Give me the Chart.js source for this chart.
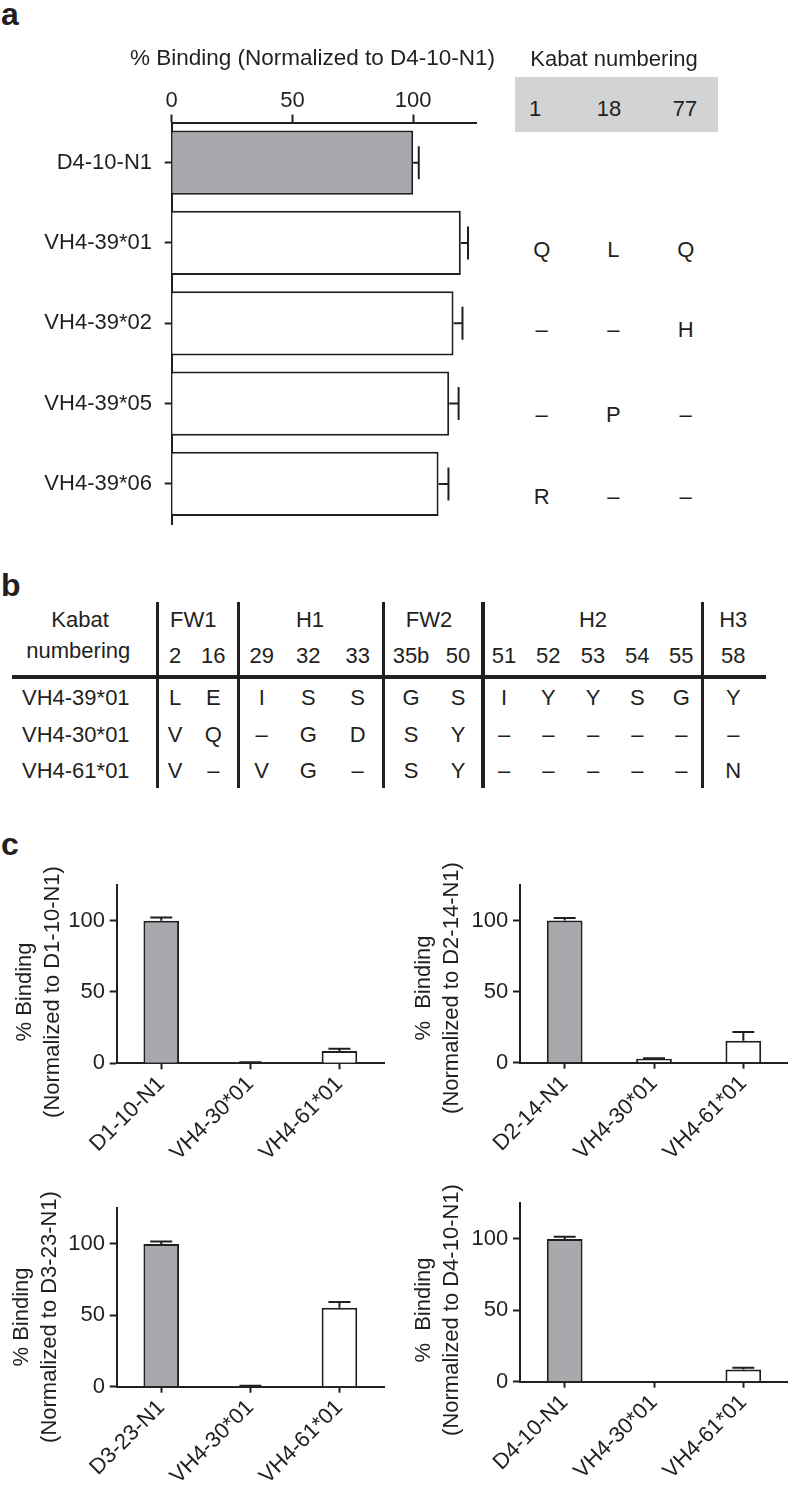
<!DOCTYPE html>
<html><head><meta charset="utf-8">
<script src="https://cdn.jsdelivr.net/npm/chart.js@4.4.1/dist/chart.umd.min.js"></script>
<style>
html,body{margin:0;padding:0;background:#fff;}
body{width:788px;height:1486px;position:relative;overflow:hidden;font-family:"Liberation Sans",Arial,Helvetica,sans-serif;color:#231f20;}
.t{position:absolute;white-space:pre;font-size:22px;line-height:1;transform:translate(-50%,-50%);}
.rot{position:absolute;white-space:pre;font-size:22px;line-height:28px;text-align:center;transform:translate(-50%,-50%) rotate(-90deg);}
.lbl{position:absolute;font-weight:bold;font-size:32px;line-height:1;}
.ln{position:absolute;background:#231f20;}
.box{position:absolute;background:#d1d3d4;}
canvas{position:absolute;}
</style></head><body>
<div class="lbl" style="left:1px;top:-2px">a</div>
<div class="lbl" style="left:1px;top:569px">b</div>
<div class="lbl" style="left:1px;top:828px">c</div>
<div class="box" style="left:515px;top:77px;width:203px;height:55px"></div>
<canvas id="ca" width="500" height="520" style="left:0;top:30px"></canvas>
<canvas id="c1" width="394" height="320" style="left:0;top:860px"></canvas>
<canvas id="c2" width="394" height="320" style="left:394px;top:860px"></canvas>
<canvas id="c3" width="394" height="301" style="left:0;top:1185px"></canvas>
<canvas id="c4" width="394" height="306" style="left:394px;top:1180px"></canvas>
<script>
// ---------- DATA ----------
// Panel a
const panelACategories = ['D4-10-N1', 'VH4-39*01', 'VH4-39*02', 'VH4-39*05', 'VH4-39*06'];
const panelAValues = [100, 119.7, 116.7, 114.9, 110.5];
const panelAErrors = [2.3, 3.0, 3.7, 3.9, 4.1];
const panelATitle = '% Binding (Normalized to D4-10-N1)';
const panelAKabatTitle = 'Kabat numbering';
const panelAKabatPositions = ['1', '18', '77'];
const panelAKabatResidues = [
  [],
  ['Q', 'L', 'Q'],
  ['–', '–', 'H'],
  ['–', 'P', '–'],
  ['R', '–', '–']
];
// Panel b
const tableBHeader = ['Kabat', 'numbering'];
const tableBRegions = ['FW1', 'H1', 'FW2', 'H2', 'H3'];
const tableBPositions = ['2', '16', '29', '32', '33', '35b', '50', '51', '52', '53', '54', '55', '58'];
const tableBRowNames = ['VH4-39*01', 'VH4-30*01', 'VH4-61*01'];
const tableBResidues = [
  ['L', 'E', 'I', 'S', 'S', 'G', 'S', 'I', 'Y', 'Y', 'S', 'G', 'Y'],
  ['V', 'Q', '–', 'G', 'D', 'S', 'Y', '–', '–', '–', '–', '–', '–'],
  ['V', '–', 'V', 'G', '–', 'S', 'Y', '–', '–', '–', '–', '–', 'N']
];
// Panel c
const c1Categories = ['D1-10-N1', 'VH4-30*01', 'VH4-61*01'];
const c1Values = [100, 0.6, 8.6];
const c1Errors = [2.3, 0.2, 1.6];
const c1Title = ['% Binding', '(Normalized to D1-10-N1)'];
const c2Categories = ['D2-14-N1', 'VH4-30*01', 'VH4-61*01'];
const c2Values = [100, 2.8, 15.4];
const c2Errors = [1.8, 0.3, 6.2];
const c2Title = ['%  Binding', '(Normalized to D2-14-N1)'];
const c3Categories = ['D3-23-N1', 'VH4-30*01', 'VH4-61*01'];
const c3Values = [100, 0.5, 55.4];
const c3Errors = [1.8, 0.2, 3.9];
const c3Title = ['% Binding', '(Normalized to D3-23-N1)'];
const c4Categories = ['D4-10-N1', 'VH4-30*01', 'VH4-61*01'];
const c4Values = [100, 0, 8.6];
const c4Errors = [1.6, 0, 1.2];
const c4Title = ['%  Binding', '(Normalized to D4-10-N1)'];
const panelCTickStep = 50;

// ---------- STYLE / LAYOUT ----------
const DARK = '#231f20';
const GRAY = '#a7a9ac';
const FONT = '"Liberation Sans", Arial, Helvetica, sans-serif';

function addText(cls, s, x, y, extra) {
  const d = document.createElement('div');
  d.className = cls;
  d.textContent = s;
  d.style.left = x + 'px';
  d.style.top = y + 'px';
  if (extra) Object.assign(d.style, extra);
  document.body.appendChild(d);
  return d;
}
function addLine(x, y, w, h) {
  const d = document.createElement('div');
  d.className = 'ln';
  Object.assign(d.style, {left: x + 'px', top: y + 'px', width: w + 'px', height: h + 'px'});
  document.body.appendChild(d);
}

// Panel a texts
addText('t', panelATitle, 312.5, 58, {fontSize: '22.5px'});
addText('t', panelAKabatTitle, 614, 59);
const kabatColX = [535, 609, 685];
const kabatResX = [541.7, 613.3, 685.7];
const kabatRowY = [null, 250, 330, 415, 497];
panelAKabatPositions.forEach((p, i) => addText('t', p, kabatColX[i], 109));
panelAKabatResidues.forEach((row, r) => row.forEach((s, i) => addText('t', s, kabatResX[i], kabatRowY[r])));

// Panel b table
addText('t', tableBHeader[0], 80, 619.5);
addText('t', tableBHeader[1], 78.3, 651);
const regionX = [193.3, 310, 429, 593, 733.3];
tableBRegions.forEach((s, i) => addText('t', s, regionX[i], 620));
const colX = [175, 213.3, 261.7, 308.3, 357.7, 411, 458, 504, 548.3, 593, 637.3, 681.3, 733.3];
tableBPositions.forEach((s, i) => addText('t', s, colX[i], 655.5));
const rowY = [698.3, 734.5, 771];
tableBRowNames.forEach((s, r) => addText('t', s, 75.8, rowY[r]));
tableBResidues.forEach((row, r) => row.forEach((s, i) => addText('t', s, colX[i], rowY[r])));
[157.7, 238.3, 383.5, 483, 702.3].forEach(x => addLine(x - 1.8, 601.7, 3.6, 186));
addLine(11.7, 674.7, 754, 4);

// Panel c y titles
addText('rot', c1Title.join('\n'), 37.5, 991.5);
addText('rot', c2Title.join('\n'), 437, 988);
addText('rot', c3Title.join('\n'), 35, 1316.5);
addText('rot', c4Title.join('\n'), 436.5, 1310);

// ---------- Error bar plugin ----------
const errorBarPlugin = {
  id: 'errorBars',
  afterDatasetsDraw(chart, args, opts) {
    const ctx = chart.ctx;
    const meta = chart.getDatasetMeta(0);
    const horizontal = chart.options.indexAxis === 'y';
    const vScale = horizontal ? chart.scales.x : chart.scales.y;
    const values = chart.data.datasets[0].data;
    ctx.save();
    ctx.strokeStyle = DARK;
    ctx.lineWidth = 2;
    meta.data.forEach((bar, i) => {
      const e = opts.errors[i];
      if (!e) return;
      const end = vScale.getPixelForValue(values[i] + e);
      ctx.beginPath();
      if (horizontal) {
        ctx.moveTo(bar.x, bar.y); ctx.lineTo(end, bar.y);
        ctx.moveTo(end, bar.y - opts.cap / 2); ctx.lineTo(end, bar.y + opts.cap / 2);
      } else {
        ctx.moveTo(bar.x, bar.y); ctx.lineTo(bar.x, end);
        ctx.moveTo(bar.x - opts.cap / 2, end); ctx.lineTo(bar.x + opts.cap / 2, end);
      }
      ctx.stroke();
    });
    ctx.restore();
  }
};

const fillColors = vals => vals.map((v, i) => i === 0 ? GRAY : '#ffffff');

// Panel a chart
new Chart(document.getElementById('ca'), {
  type: 'bar',
  data: {
    labels: panelACategories,
    datasets: [{
      data: panelAValues,
      backgroundColor: fillColors(panelAValues),
      borderColor: DARK, borderWidth: 2, borderSkipped: 'start',
      barPercentage: 0.8, categoryPercentage: 1
    }]
  },
  options: {
    indexAxis: 'y', responsive: false, animation: false, devicePixelRatio: 1,
    layout: {padding: {left: 0, right: 24, top: 0, bottom: 14.3}},
    plugins: {legend: {display: false}, tooltip: {enabled: false}, errorBars: {errors: panelAErrors, cap: 33}},
    scales: {
      x: {
        position: 'top', min: 0, max: 126,
        ticks: {stepSize: 50, includeBounds: false, padding: 0, color: DARK, font: {size: 22, family: FONT}},
        grid: {drawOnChartArea: false, tickLength: 8, tickWidth: 2, tickColor: DARK},
        border: {color: DARK, width: 2},
        afterFit: s => { s.height = 92.5; }
      },
      y: {
        ticks: {padding: 12.7, color: DARK, font: {size: 22, family: FONT}},
        grid: {offset: false, drawOnChartArea: false, tickLength: 7, tickWidth: 2, tickColor: DARK},
        border: {color: DARK, width: 2},
        afterFit: s => { s.width = 171.7; }
      }
    }
  },
  plugins: [errorBarPlugin]
});

function makeC(id, cats, vals, errs, geo) {
  new Chart(document.getElementById(id), {
    type: 'bar',
    data: {
      labels: cats,
      datasets: [{
        data: vals,
        backgroundColor: fillColors(vals),
        borderColor: DARK, borderWidth: 2, borderSkipped: 'start',
        barPercentage: 0.4, categoryPercentage: 1
      }]
    },
    options: {
      responsive: false, animation: false, devicePixelRatio: 1,
      layout: {padding: {left: 0, right: geo.right, top: geo.top, bottom: 0}},
      plugins: {legend: {display: false}, tooltip: {enabled: false}, errorBars: {errors: errs, cap: 22}},
      scales: {
        x: {
          ticks: {minRotation: 45, maxRotation: 45, autoSkip: false, padding: 2, color: DARK, font: {size: 22, family: FONT}},
          grid: {offset: false, drawOnChartArea: false, tickLength: 6, tickWidth: 2, tickColor: DARK},
          border: {color: DARK, width: 2},
          afterFit: s => { s.height = geo.xh; }
        },
        y: {
          min: 0, max: 125,
          ticks: {stepSize: panelCTickStep, includeBounds: false, padding: 4.7, color: DARK, font: {size: 22, family: FONT}},
          grid: {drawOnChartArea: false, tickLength: 7, tickWidth: 2, tickColor: DARK},
          border: {color: DARK, width: 2},
          afterFit: s => { s.width = geo.yw; }
        }
      }
    },
    plugins: [errorBarPlugin]
  });
}
makeC('c1', c1Categories, c1Values, c1Errors, {top: 25, right: 10, yw: 116.7, xh: 116.7});
makeC('c2', c2Categories, c2Values, c2Errors, {top: 25, right: 0, yw: 126, xh: 117.3});
makeC('c3', c3Categories, c3Values, c3Errors, {top: 23.3, right: 10, yw: 116.7, xh: 99.3});
makeC('c4', c4Categories, c4Values, c4Errors, {top: 23.3, right: 0, yw: 126, xh: 104.3});
</script>
</body></html>
